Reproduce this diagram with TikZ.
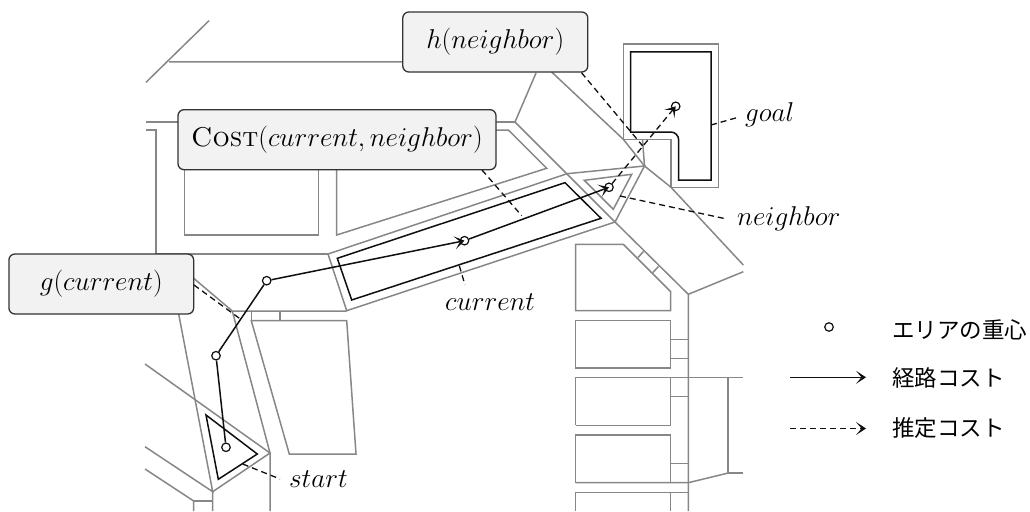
\documentclass[tikz,border=0pt]{standalone}
\usepackage{fix-cm}
\usepackage{amsmath,amssymb}
\usepackage{fontspec}
\usepackage{xcolor}
\usepackage{tikz}
\usetikzlibrary{arrows.meta,positioning}
\newfontfamily\cjk{Noto Sans CJK JP}
\definecolor{wallgray}{RGB}{135,135,135}
\definecolor{calloutbg}{RGB}{242,242,242}
\definecolor{pathblack}{RGB}{15,15,15}

\begin{document}
\begin{tikzpicture}[
  x=1pt, y=-1pt,
  wall/.style={draw=wallgray, line width=1.5pt, line join=miter},
  area/.style={draw=pathblack, line width=1.5pt},
  callout/.style={rectangle, rounded corners=6pt, draw=pathblack!85, fill=calloutbg,
                  line width=1.3pt, minimum height=60pt, align=center, inner sep=0pt,
                  font=\fontsize{27.2}{32}\selectfont},
  tag/.style={anchor=west, inner sep=0pt, font=\fontsize{27.2}{32}\selectfont},
  legendtext/.style={anchor=west, inner sep=0pt, font=\cjk\fontsize{22.5}{26}\selectfont},
  centroid/.style={circle, draw=pathblack, fill=none, line width=1.2pt, minimum size=8.5pt, inner sep=0pt},
  cost/.style={pathblack, line width=1.5pt},
  arr/.style={-{Stealth[length=10pt,width=13pt,inset=5.5pt]}, cost},
  est/.style={pathblack, line width=1.3pt, dash pattern=on 6pt off 4pt},
  estarr/.style={-{Stealth[length=10pt,width=13pt,inset=5.5pt]}, est}
]
\useasboundingbox (0,0) rectangle (1030,511);

% plan
\draw[wall] (146,82.3) -- (209,20.7);
\draw[wall] (169,62) -- (541,62) -- (623.3,139.3) -- (644.5,166) -- (671,187.3) -- (743.3,265);
\draw[wall] (536,73) -- (515,122) -- (615,222) -- (688.3,294.3) -- (688.3,511);
\draw[wall] (688.3,294.3) -- (743.3,271.7);
\draw[wall] (146,122) -- (515,122);
\draw[wall] (146,130) -- (156,130) -- (156,254) -- (328,254);
\draw[wall] (328,254) -- (567,173.7) -- (644.5,166) -- (615,222) -- (346.7,310.7) -- cycle;
\draw[wall] (193.7,278.3) -- (232.3,311) -- (346.7,311);
\draw[wall] (232.3,311) -- (270,453) -- (270,511);
\draw[wall] (145,364) -- (270,453) -- (212.7,491.7) -- (212.7,511);
\draw[wall] (176,300) -- (212.7,491.7) -- (145,446.7);
\draw[wall] (145,469) -- (193.7,501) -- (193.7,511);
\draw[wall] (193.7,501) -- (212.7,501);
\draw[wall] (251.3,311) -- (251.3,320.7);
\draw[wall] (280,311) -- (280,320.7);
\draw[wall] (251.3,320.7) -- (346.7,320.7) -- (356,454) -- (289.3,454) -- cycle;
\draw[wall] (184.3,150) -- (184.3,235) -- (318.3,235) -- (318.3,150);
\draw[wall] (336.7,150) -- (336.7,235) -- (546.7,168.3) -- (508.3,130) -- (480,130);
\draw[wall] (584.3,180.3) -- (631.7,174.3) -- (613.3,209.3) -- cycle;
\draw[wall] (623.3,139.3) -- (623.3,44) -- (718.7,44) -- (718.7,187.3) -- (671,187.3) -- (671,139.3) -- (623.3,139.3);
\draw[wall] (642.5,139.3) -- (644.5,166);
\draw[wall] (575.7,244.3) -- (623.3,244.3) -- (670.7,291.7) -- (670.7,310.7) -- (575.7,310.7) -- cycle;
\draw[wall] (643.5,251.5) -- (638,257.5);
\draw[wall] (658.5,266.5) -- (652.7,272.7);
\draw[wall] (575.7,320.3) rectangle (670.7,368);
\draw[wall] (670.7,339.3) -- (688.3,339.3);
\draw[wall] (670.7,358.7) -- (688.3,358.7);
\draw[wall] (575.7,425.3) -- (575.7,377.7) -- (743.3,377.7);
\draw[wall] (575.7,425.3) -- (670.7,425.3) -- (670.7,377.7);
\draw[wall] (670.7,396.7) -- (688.3,396.7);
\draw[wall, line width=2.2pt] (728.3,377.7) -- (728.3,473);
\draw[wall] (728.3,473) -- (743.3,473);
\draw[wall] (670.7,435) rectangle (575.7,482.7);
\draw[wall] (575.7,482.7) -- (688.3,482.7) -- (728.3,473);
\draw[wall] (670.7,463.7) -- (688.3,463.7);
\draw[wall] (575.7,511) -- (575.7,492.3) -- (688.3,492.3);
\draw[wall] (670.7,492.3) -- (670.7,511);

% areas
\draw[area] (206,415) -- (257.3,454) -- (218.3,479.3) -- cycle;
\draw[area] (337.3,258.3) -- (565,182.7) -- (601,218.3) -- (351.7,300) -- cycle;
\draw[area] (630.7,52) -- (711,52) -- (711,180) -- (678.7,180) -- (678.7,140)
  arc[start angle=0, end angle=-90, radius=8] -- (630.7,132) -- cycle;

% centroids
\node[centroid] (start) at (226,447.3) {};
\node[centroid] (via1) at (216,355.7) {};
\node[centroid] (via2) at (266.7,280.7) {};
\node[centroid] (current) at (464.5,240.7) {};
\node[centroid] (neighbor) at (609,187.3) {};
\node[centroid] (goal) at (675.7,106.3) {};

\draw[cost] (start) -- (via1);
\draw[cost] (via1) -- (via2);
\draw[arr] (via2) -- (current.center);
\draw[arr] (current) -- (neighbor.center);
\draw[estarr] (neighbor) -- (goal.center);

% callouts
\node[callout, minimum width=185pt] (hbox) at (495.3,42) {$h(neighbor)$};
\node[callout, minimum width=318pt] (costbox) at (337,139.7) {\textsc{Cost}$(current,neighbor)$};
\node[callout, minimum width=184.7pt] (gbox) at (101.3,284) {$g(current)$};
\coordinate (hend) at (642.7,146);
\coordinate (costend) at (521.7,215.7);
\coordinate (gend) at (241.7,320);
\draw[est] (hbox.south east) ++(-7,0) -- (hend);
\draw[est] (482,170) -- (costend);
\draw[est] (194,285) -- (gend);

% labels
\node[tag] (starttag) at (289,479) {$start$};
\node[tag] (goaltag) at (745,115) {$goal$};
\node[tag] (neighbortag) at (737,219) {$neighbor$};
\node[tag] (currenttag) at (445,302) {$current$};
\coordinate (startend) at (242.7,464);
\coordinate (goalend) at (711,125);
\coordinate (neighborend) at (620,196);
\coordinate (currentend) at (459.3,265.7);
\draw[est] (startend) -- (280,479);
\draw[est] (goalend) -- (736.7,117.7);
\draw[est] (neighborend) -- (726.7,219);
\draw[est] (currentend) -- (465,285);

% legend
\node[centroid] (legdot) at (829,327) {};
\node[legendtext] (legdottext) at (892,330) {エリアの重心};
\coordinate (legcosta) at (790,377.3);
\coordinate (legcostb) at (866,377.3);
\coordinate (legesta) at (790,428.5);
\coordinate (legestb) at (866,428.5);
\draw[arr] (legcosta) -- (legcostb);
\draw[estarr] (legesta) -- (legestb);
\node[legendtext] (legcosttext) at (892,378) {経路コスト};
\node[legendtext] (legesttext) at (892,428) {推定コスト};
\end{tikzpicture}
\end{document}
